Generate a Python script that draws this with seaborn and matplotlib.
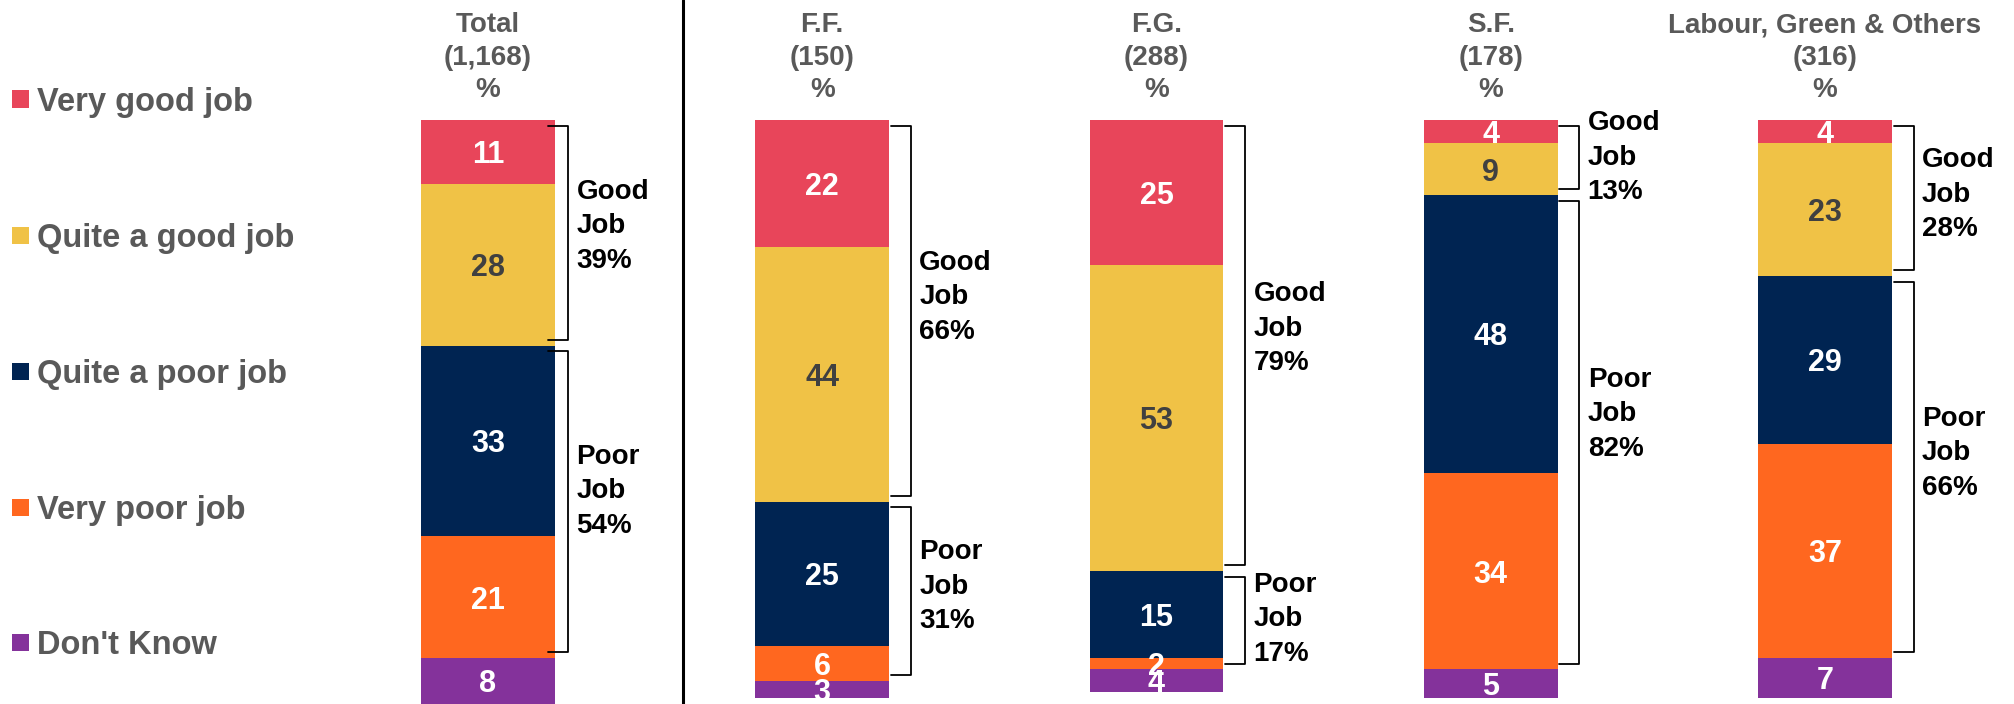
import numpy as np
import seaborn as sns
import matplotlib.pyplot as plt
from matplotlib.lines import Line2D
from matplotlib.patches import Rectangle

# Data
parties = ["Total", "F.F.", "F.G.", "S.F.", "Labour, Green & Others"]
bases = ["(1,168)", "(150)", "(288)", "(178)", "(316)"]
responses = ["Very good job", "Quite a good job", "Quite a poor job", "Very poor job", "Don't Know"]
very_good = [11, 22, 25, 4, 4]
quite_good = [28, 44, 53, 9, 23]
quite_poor = [33, 25, 15, 48, 29]
very_poor = [21, 6, 2, 34, 37]
dont_know = [8, 3, 4, 5, 7]
good_net = [39, 66, 79, 13, 28]
poor_net = [54, 31, 17, 82, 66]

colors = ["#E8455A", "#F0C246", "#002452", "#FF671F", "#84329B"]
value_colors = ["white", "#404040", "white", "white", "white"]
grey = "#595959"

sns.set_style("white")
plt.rcParams["font.family"] = ["Liberation Sans", "DejaVu Sans"]
plt.rcParams["font.weight"] = "bold"

W, H = 2015, 704
fig = plt.figure(figsize=(W / 100, H / 100), dpi=100)
ax_top_px = 120
ax = fig.add_axes([0, 0, 1, (H - ax_top_px) / H])

series = [very_good, quite_good, quite_poor, very_poor, dont_know]
cum = np.cumsum(np.array(series), axis=0)

# stacked bars: draw cumulative totals from the largest down
for i in reversed(range(len(series))):
    sns.barplot(x=parties, y=cum[i], order=parties, color=colors[i], width=0.4,
                saturation=1, errorbar=None, linewidth=0, ax=ax)

# segment labels
for j in range(len(parties)):
    start = 0
    for i, s in enumerate(series):
        v = s[j]
        ax.text(j, start + v / 2, str(v), ha="center", va="center_baseline",
                fontsize=22, fontweight="bold", color=value_colors[i], clip_on=False)
        start += v


def bracket(x, y0, y1, lines):
    ax.plot([x - 0.06, x, x, x - 0.06], [y0, y0, y1, y1], color="black", lw=1.3,
            solid_joinstyle="round", solid_capstyle="round", clip_on=False)
    # labels sit a little above the bracket middle on the long brackets
    ymid = (y0 + y1) / 2 - 0.045 * (y1 - y0)
    for k, line in enumerate(lines):
        ax.annotate(line, xy=(x + 0.025, ymid), xytext=(0, (1 - k) * 24.8),
                    textcoords="offset points", ha="left", va="center_baseline",
                    fontsize=20, fontweight="bold", color="black")


for j in range(len(parties)):
    bx = j + (0.24 if j == 0 else 0.265)
    good_end = very_good[j] + quite_good[j]
    poor_end = good_end + quite_poor[j] + very_poor[j]
    bracket(bx, 1, good_end - 1, ["Good", "Job", f"{good_net[j]}%"])
    bracket(bx, good_end + 1, poor_end - 1, ["Poor", "Job", f"{poor_net[j]}%"])

# column headers
ax_h = H - ax_top_px
for j, (p, b) in enumerate(zip(parties, bases)):
    for py, line in zip([22, 55, 87], [p, b, "%"]):
        ax.text(j, (H - py) / ax_h, line, transform=ax.get_xaxis_transform(),
                ha="center", va="center_baseline", fontsize=20, fontweight="bold",
                color=grey, clip_on=False)

px_per_unit = 334.25
first_px = 488
ax.set_xlim(-first_px / px_per_unit, (W - first_px) / px_per_unit)
ax.set_ylim(101, 0)
ax.axis("off")

# legend on the left
for yc, label, c in zip([99, 235, 371, 507, 642], responses, colors):
    fig.add_artist(Rectangle((12 / W, 1 - (yc + 8.5) / H), 17 / W, 17 / H,
                             transform=fig.transFigure, color=c, lw=0))
    fig.text(37 / W, 1 - yc / H, label, ha="left", va="center_baseline",
             fontsize=23.5, fontweight="bold", color=grey)

# divider between total and party columns
fig.add_artist(Line2D([683.5 / W] * 2, [0, 1], color="black", lw=2.2,
                      transform=fig.transFigure))

fig.savefig("out.png", dpi=100)
